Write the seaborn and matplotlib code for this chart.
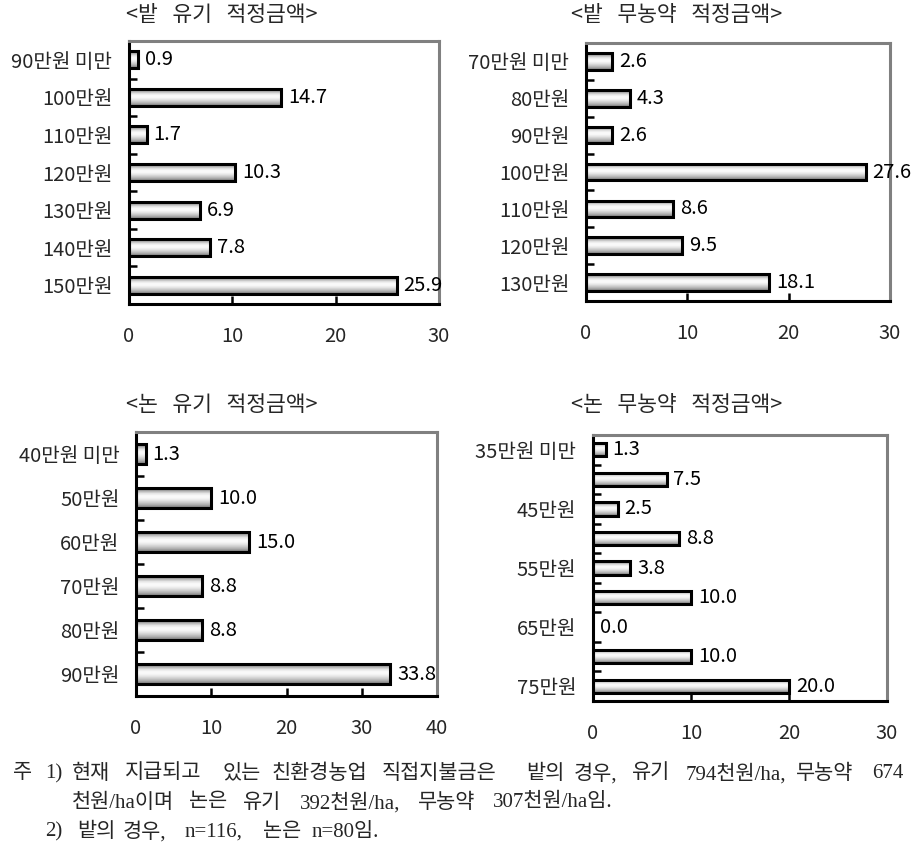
import numpy as np
import pandas as pd
import matplotlib
matplotlib.use("Agg")
import matplotlib.pyplot as plt
import seaborn as sns

sns.set_theme(style="white")
plt.rcParams["font.family"] = ["Noto Sans CJK KR", "DejaVu Sans"]

# ---------------- data ----------------
titles = ["<밭   유기   적정금액>", "<밭   무농약   적정금액>",
          "<논   유기   적정금액>", "<논   무농약   적정금액>"]

p1_cats = ["90만원 미만", "100만원", "110만원", "120만원", "130만원", "140만원", "150만원"]
p1_vals = [0.9, 14.7, 1.7, 10.3, 6.9, 7.8, 25.9]

p2_cats = ["70만원 미만", "80만원", "90만원", "100만원", "110만원", "120만원", "130만원"]
p2_vals = [2.6, 4.3, 2.6, 27.6, 8.6, 9.5, 18.1]

p3_cats = ["40만원 미만", "50만원", "60만원", "70만원", "80만원", "90만원"]
p3_vals = [1.3, 10.0, 15.0, 8.8, 8.8, 33.8]

p4_cats = ["35만원 미만", "40만원", "45만원", "50만원", "55만원", "60만원", "65만원", "70만원", "75만원"]
p4_vals = [1.3, 7.5, 2.5, 8.8, 3.8, 10.0, 0.0, 10.0, 20.0]
p4_labels = ["35만원 미만", "", "45만원", "", "55만원", "", "65만원", "", "75만원"]

x_ticks_30 = [0, 10, 20, 30]
x_ticks_40 = [0, 10, 20, 30, 40]

notes_line1 = [(13, "주"), (45, "1)"), (72, "현재"), (125, "지급되고"), (223, "있는"),
               (272, "친환경농업"), (382, "직접지불금은"), (526, "밭의"), (574, "경우,"),
               (632, "유기"), (686, "794천원/ha,"), (796, "무농약"), (872, "674")]
notes_line2 = [(72, "천원/ha이며"), (189, "논은"), (243, "유기"), (300, "392천원/ha,"),
               (418, "무농약"), (493, "307천원/ha임.")]
notes_line3 = [(45, "2)"), (77, "밭의"), (123, "경우,"), (185, "n=116,"), (263, "논은"),
               (312, "n=80임.")]

# ---------------- figure ----------------
W, H = 924, 850
fig = plt.figure(figsize=(W / 100, H / 100), dpi=100)
fig.patch.set_facecolor("white")

def px_axes(l, t, r, b):
    return fig.add_axes([l / W, 1 - b / H, (r - l) / W, (b - t) / H])

grad = np.array([0.50, 0.72, 0.90, 0.98, 0.97, 0.90, 0.80, 0.68, 0.52]).reshape(-1, 1)

FS = 14.5

def panel(ax, cats, vals, labels, xmax, xticks):
    df = pd.DataFrame({"cat": cats, "val": vals})
    sns.barplot(data=df, x="val", y="cat", orient="h", order=cats, width=0.45,
                color="white", edgecolor="black", linewidth=2.2, ax=ax,
                saturation=1)
    n = len(cats)
    for p, v in zip(ax.patches, vals):
        p.set_facecolor("none")
        p.set_zorder(3)
        if v <= 0:
            p.set_linewidth(0)
            continue
        x0, y0 = p.get_x(), p.get_y()
        w, h = p.get_width(), p.get_height()
        ax.imshow(grad, cmap="gray", vmin=0, vmax=1, aspect="auto",
                  extent=(x0, x0 + w, y0 + h, y0), origin="upper",
                  interpolation="bilinear", zorder=2)
    ax.bar_label(ax.containers[0], fmt="%.1f", padding=5, fontsize=FS, color="black")
    ax.set_xlim(0, xmax)
    ax.set_ylim(n - 0.5, -0.5)
    ax.set_xlabel("")
    ax.set_ylabel("")
    ax.set_yticks(range(n))
    ax.set_yticklabels(labels, fontsize=FS)
    ax.set_yticks(np.arange(n + 1) - 0.5, minor=True)
    ax.set_xticks(xticks)
    ax.set_xticklabels([str(t) for t in xticks], fontsize=FS)
    ax.tick_params(axis="y", which="major", length=0, pad=12)
    ax.tick_params(axis="y", which="minor", direction="in", length=6, width=1.8,
                   color="black", left=True)
    ax.tick_params(axis="x", which="major", direction="in", length=6, width=1.8,
                   color="black", bottom=True, pad=16)
    for s in ["left", "bottom"]:
        ax.spines[s].set_color("black")
        ax.spines[s].set_linewidth(2.2)
    for s in ["top", "right"]:
        ax.spines[s].set_color("#808080")
        ax.spines[s].set_linewidth(2.2)
    ax.set_facecolor("white")
    ax.grid(False)

ax1 = px_axes(129, 41, 439, 304)
panel(ax1, p1_cats, p1_vals, p1_cats, 30, x_ticks_30)
ax2 = px_axes(586, 43, 890, 301)
panel(ax2, p2_cats, p2_vals, p2_cats, 30, x_ticks_30)
ax3 = px_axes(136, 432, 437, 696)
panel(ax3, p3_cats, p3_vals, p3_cats, 40, x_ticks_40)
ax4 = px_axes(593, 435, 887, 701)
panel(ax4, p4_cats, p4_vals, p4_labels, 30, x_ticks_30)

title_pos = [(222, 15), (677, 15), (222, 405), (677, 405)]
for (tx, ty), t in zip(title_pos, titles):
    fig.text(tx / W, 1 - ty / H, t, ha="center", va="center", fontsize=15.5)

note_font = ["Liberation Serif", "Noto Sans CJK KR"]
for line, ly in [(notes_line1, 774), (notes_line2, 803), (notes_line3, 832)]:
    for x, t in line:
        fig.text(x / W, 1 - ly / H, t, ha="left", va="center", fontsize=15,
                 family=note_font)

fig.savefig("out.png", dpi=100, facecolor="white")
